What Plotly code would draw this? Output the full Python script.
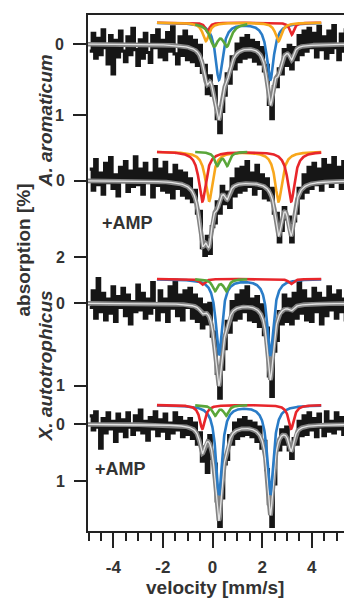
import numpy as np
import plotly.graph_objects as go

# ---------------- data (absorption in %) ----------------
V0, DV = -4.95, 0.10          # velocity of first channel and channel step (mm/s)

DATA_A_AROM = [
    0.10, -0.15, 0.20, -0.08, 0.15, -0.20, 0.05, 0.28, -0.12, 0.42,
    -0.05, 0.18, -0.18, 0.10, 0.25, -0.10, 0.15, -0.22, 0.08, 0.30,
    -0.06, 0.20, -0.15, 0.12, 0.26, -0.12, 0.05, -0.20, 0.18, -0.05,
    0.22, -0.16, 0.10, -0.24, 0.14, 0.28, -0.10, 0.16, -0.18, 0.22,
    -0.10, 0.25, -0.05, 0.30, 0.02, 0.40, 0.30, 0.70, 0.45, 0.72,
    0.60, 1.05, 1.25, 0.95, 0.72, 0.42, 0.55, 0.18, 0.35, 0.00,
    0.25, -0.08, 0.20, -0.12, 0.18, -0.05, 0.24, -0.02, 0.28, 0.05,
    0.38, 0.30, 0.85, 1.05, 0.60, 0.60, 0.35, 0.42, 0.08, 0.30,
    0.02, 0.35, 0.05, 0.22, -0.12, 0.15, -0.18, 0.10, -0.22, 0.05,
    -0.15, 0.18, -0.25, 0.08, -0.10, 0.20, -0.18, 0.12, -0.26, 0.05,
    0.22, -0.14, 0.10, -0.20, 0.15,
]
DATA_A_AROM_AMP = [
    -0.30, 0.25, -0.55, 0.10, -0.20, 0.35, -0.45, 0.05, -0.60, 0.20,
    -0.15, 0.40, -0.35, 0.00, -0.50, 0.28, -0.25, 0.15, -0.62, 0.10,
    -0.30, 0.35, -0.45, 0.05, -0.20, 0.42, -0.55, 0.12, -0.30, 0.25,
    -0.48, 0.30, -0.15, 0.45, -0.40, 0.20, -0.25, 0.38, -0.20, 0.45,
    -0.05, 0.55, 0.25, 0.85, 0.80, 1.75, 1.95, 1.45, 1.90, 1.20,
    1.10, 0.55, 0.85, 0.15, 0.60, 0.30, 0.70, -0.05, 0.40, -0.30,
    0.30, -0.35, 0.25, -0.50, 0.15, -0.20, 0.35, -0.40, 0.20, -0.15,
    0.45, -0.05, 0.50, 0.20, 0.85, 0.85, 1.60, 1.30, 0.70, 1.00,
    0.95, 1.60, 1.05, 0.85, 0.20, 0.45, -0.15, 0.30, -0.35, 0.20,
    -0.45, 0.10, -0.30, 0.25, -0.55, 0.05, -0.40, 0.15, -0.60, 0.00,
    -0.35, 0.20, -0.50, 0.05, -0.25,
]
DATA_X_AUTO = [
    0.05, -0.15, 0.18, -0.30, 0.10, -0.12, 0.20, -0.05, 0.12, -0.20,
    0.22, -0.08, 0.05, -0.18, 0.15, -0.10, 0.25, -0.02, 0.10, -0.22,
    0.08, -0.12, 0.18, -0.05, 0.12, -0.25, 0.05, 0.20, -0.15, 0.10,
    -0.05, 0.22, -0.20, 0.06, -0.28, 0.15, -0.10, 0.20, -0.15, 0.05,
    -0.18, 0.18, -0.10, 0.22, -0.05, 0.30, 0.02, 0.25, 0.00, 0.40,
    0.35, 0.85, 1.15, 0.80, 0.55, 0.22, 0.35, -0.02, 0.20, -0.10,
    0.18, -0.15, 0.10, -0.20, 0.20, -0.05, 0.22, -0.08, 0.28, 0.02,
    0.38, 0.30, 0.88, 1.13, 0.58, 0.45, 0.10, 0.25, -0.10, 0.22,
    -0.05, 0.25, -0.12, 0.18, -0.25, 0.12, -0.15, 0.20, -0.05, 0.22,
    -0.18, 0.10, -0.12, 0.25, -0.06, 0.15, -0.20, 0.08, -0.10, 0.18,
    -0.15, 0.10, -0.05, 0.20, -0.10,
]
DATA_X_AUTO_AMP = [
    -0.15, 0.10, -0.22, 0.05, 0.42, -0.10, 0.15, -0.20, 0.08, -0.05,
    0.30, -0.18, 0.12, -0.08, 0.22, -0.20, 0.05, 0.18, -0.15, 0.10,
    -0.25, 0.15, -0.05, 0.28, -0.12, 0.08, -0.22, 0.20, -0.08, 0.12,
    -0.18, 0.25, -0.02, 0.15, -0.20, 0.10, -0.12, 0.22, -0.05, 0.18,
    -0.10, 0.25, -0.02, 0.35, 0.15, 0.65, 0.40, 0.85, 0.20, 0.60,
    0.70, 1.35, 1.80, 1.30, 0.70, 0.62, 0.20, 0.35, -0.02, 0.25,
    -0.08, 0.20, -0.12, 0.18, -0.05, 0.22, -0.02, 0.30, 0.05, 0.42,
    0.30, 0.80, 1.40, 1.80, 1.05, 0.45, 0.45, 0.10, 0.35, 0.05,
    0.45, 0.60, 0.25, 0.35, -0.05, 0.20, -0.15, 0.18, -0.20, 0.10,
    -0.10, 0.22, -0.18, 0.05, 0.20, -0.22, 0.12, -0.05, 0.15, -0.20,
    0.08, -0.12, 0.18, -0.05, 0.10,
]

# fit components: quadrupole doublets (line centres mm/s, line depths %, half width mm/s)
COMP_A_AROM = [
    ("blue",   [0.26, 2.33],  [0.80, 0.80], 0.17),
    ("red",    [-0.21, 3.19], [0.13, 0.17], 0.10),
    ("orange", [-0.27, 2.66], [0.26, 0.26], 0.15),
    ("green",  [0.06, 0.58],  [0.30, 0.30], 0.20),
]
COMP_A_AROM_AMP = [
    ("orange", [-0.14, 2.66], [1.30, 1.30], 0.17),
    ("red",    [-0.41, 3.17], [1.30, 1.30], 0.17),
    ("green",  [0.19, 0.59],  [0.35, 0.35], 0.12),
]
COMP_X_AUTO = [
    ("blue",  [0.26, 2.33],  [0.92, 0.92], 0.15),
    ("red",   [-0.41, 3.17], [0.07, 0.06], 0.12),
    ("green", [0.10, 0.55],  [0.14, 0.14], 0.12),
]
COMP_X_AUTO_AMP = [
    ("blue",  [0.26, 2.33],  [1.58, 1.58], 0.15),
    ("red",   [-0.41, 3.17], [0.42, 0.42], 0.13),
    ("green", [0.10, 0.55],  [0.18, 0.18], 0.12),
]
COMP_OFFSETS = [-0.30, -0.76, -0.295, -0.34]   # vertical offset of component traces (%)
Y_TICKS = [[0, 1], [0, 2], [0, 1], [0, 1]]
X_TICKS = [-4, -2, 0, 2, 4]

# ---------------- styling / geometry (page pixels) ----------------
PAGE_W, PAGE_H = 352, 599
BODY = 8                                   # default page margin around the figure
W, H = PAGE_W - BODY, PAGE_H - BODY
PLOT_L, PLOT_R, PLOT_T, PLOT_B = 88, 350, 15, 531   # plot frame in page pixels
ML, MT = PLOT_L - BODY, PLOT_T - BODY
MR, MB = PAGE_W - PLOT_R, PAGE_H - PLOT_B
ZERO_PX = [44.0, 180.7, 303.3, 424.3]      # page row of 0 % for each spectrum
PX_PER_PCT = [71.0, 38.3, 82.4, 56.7]
X_RANGE = [-5.02, 5.46]
COMP_RANGE = [-2.24, 4.38]
GREEN_RANGE = [-0.70, 1.40]

COLORS = {"blue": "#2a7cc7", "red": "#e8262b", "orange": "#f8a71c", "green": "#5aa63a"}
FONT = "Liberation Sans, Arial, sans-serif"
TXT = "#333333"


def lorentz_doublet(v, centres, depths, hw):
    out = np.zeros_like(v)
    for c, a in zip(centres, depths):
        out += a / (1.0 + ((v - c) / hw) ** 2)
    return out


panels = [
    (DATA_A_AROM, COMP_A_AROM),
    (DATA_A_AROM_AMP, COMP_A_AROM_AMP),
    (DATA_X_AUTO, COMP_X_AUTO),
    (DATA_X_AUTO_AMP, COMP_X_AUTO_AMP),
]

fig = go.Figure()
vfine = np.linspace(X_RANGE[0], X_RANGE[1], 1400)

for k, (data, comps) in enumerate(panels):
    yref = "y" if k == 0 else f"y{k + 1}"
    vel = V0 + DV * np.arange(len(data))
    fig.add_trace(go.Scatter(x=vel, y=data, mode="lines", line=dict(color="#161616", width=3.2, shape="hv"),
                             yaxis=yref, showlegend=False, hoverinfo="skip"))
    total = np.zeros_like(vfine)
    for name, cen, dep, hw in comps:
        total += lorentz_doublet(vfine, cen, dep, hw)
    fig.add_trace(go.Scatter(x=vfine, y=total, mode="lines", line=dict(color="#838383", width=4.6),
                             yaxis=yref, showlegend=False, hoverinfo="skip"))
    fig.add_trace(go.Scatter(x=vfine, y=total, mode="lines", line=dict(color="#e4e4e4", width=1.3),
                             yaxis=yref, showlegend=False, hoverinfo="skip"))
    for name, cen, dep, hw in comps:
        lo, hi = GREEN_RANGE if name == "green" else COMP_RANGE
        vc = np.linspace(lo, hi, 700)
        yc = COMP_OFFSETS[k] + lorentz_doublet(vc, cen, dep, hw)
        fig.add_trace(go.Scatter(x=vc, y=yc, mode="lines", line=dict(color=COLORS[name], width=2.6),
                                 yaxis=yref, showlegend=False, hoverinfo="skip"))

layout_axes = {}
for k in range(4):
    top_val = -(ZERO_PX[k] - PLOT_T) / PX_PER_PCT[k]
    bot_val = (PLOT_B - ZERO_PX[k]) / PX_PER_PCT[k]
    ax = dict(range=[bot_val, top_val], tickvals=Y_TICKS[k], ticktext=[str(t) for t in Y_TICKS[k]],
              ticks="outside", ticklen=13, tickwidth=2, tickcolor="#222",
              tickfont=dict(family=FONT, size=16, color=TXT, weight="bold"),
              showgrid=False, zeroline=False, ticklabelstandoff=6)
    if k == 0:
        ax.update(showline=True, mirror=True, linewidth=2, linecolor="#222")
        layout_axes["yaxis"] = ax
    else:
        ax.update(showline=False, overlaying="y", anchor="x", side="left")
        layout_axes[f"yaxis{k + 1}"] = ax

fig.update_layout(
    width=W, height=H, margin=dict(l=ML, r=MR, t=MT, b=MB),
    paper_bgcolor="white", plot_bgcolor="white",
    xaxis=dict(range=X_RANGE, tickvals=X_TICKS, ticktext=[str(t) for t in X_TICKS],
               ticks="outside", ticklen=15, tickwidth=2, tickcolor="#222",
               minor=dict(dtick=0.5, tick0=0, ticks="outside", ticklen=8, tickwidth=2, tickcolor="#222"),
               showline=True, mirror=True, linewidth=2, linecolor="#222",
               showgrid=False, zeroline=False, ticklabelstandoff=5,
               tickfont=dict(family=FONT, size=17, color=TXT, weight="bold")),
    **layout_axes,
)


def px_x(p):
    return (p - PLOT_L) / (PLOT_R - PLOT_L)


def px_y(p):
    return (PLOT_B - p) / (PLOT_B - PLOT_T)


annots = [
    ("<b><i>A. aromaticum</i></b>", 45, 121, -90, 19),
    ("<b><i>X. autotrophicus</i></b>", 45, 366, -90, 19),
    ("<b>absorption [%]</b>", 22, 250, -90, 19),
    ("<b>+AMP</b>", 127.5, 223, 0, 18),
    ("<b>+AMP</b>", 121, 469, 0, 18),
    ("<b>velocity [mm/s]</b>", 216, 587, 0, 19),
]
for text, x, y, ang, size in annots:
    fig.add_annotation(text=text, x=px_x(x), y=px_y(y), xref="paper", yref="paper",
                       xanchor="center", yanchor="middle", showarrow=False, textangle=ang,
                       font=dict(family=FONT, size=size, color=TXT))

fig.write_html("out.html")
